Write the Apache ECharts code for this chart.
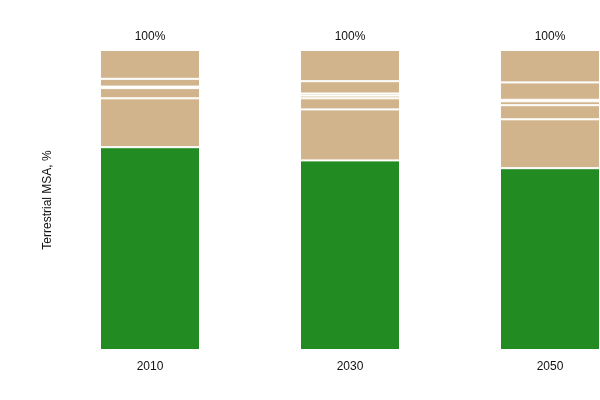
<!DOCTYPE html>
<html>
<head>
<meta charset="utf-8">
<script src="https://cdn.jsdelivr.net/npm/echarts@6/dist/echarts.min.js"></script>
<style>html,body{margin:0;padding:0;background:#fff}#c{width:600px;height:400px}</style>
</head>
<body>
<div id="c"></div>
<script>
const categories = ['2010', '2030', '2050'];
const remainingMSA = [67.6, 63.2, 60.6];
const lossA = [16.3, 17.0, 16.3];
const lossB = [3.4, 3.7, 4.7];
const lossC = [null, 0.9, 1.3];
const lossD = [0.5, 0.7, 0.5];
const lossE = [2.6, 4.1, 5.8];
const lossF = [9.6, 10.4, 10.8];
const totalLabels = ['100%', '100%', '100%'];
const yAxisTitle = 'Terrestrial MSA, %';

const tanSeries = [lossA, lossB, lossC, lossD, lossE, lossF];
const font = 'Liberation Sans, Arial, sans-serif';
const series = [{
  type: 'bar', stack: 'msa', barWidth: 100, clip: false, data: remainingMSA,
  itemStyle: { color: '#228B22', borderColor: '#fff', borderWidth: 1 }
}];
tanSeries.forEach((d, i) => {
  const s = {
    type: 'bar', stack: 'msa', barWidth: 100, clip: false, data: d,
    itemStyle: { color: '#D2B48C', borderColor: '#fff', borderWidth: 1 }
  };
  if (i === tanSeries.length - 1) {
    s.label = {
      show: true, position: 'top', distance: 7,
      formatter: p => totalLabels[p.dataIndex],
      color: '#111', fontSize: 12, fontFamily: font
    };
  }
  series.push(s);
});

const chart = echarts.init(document.getElementById('c'));
chart.setOption({
  animation: false,
  backgroundColor: '#fff',
  grid: { left: 150, top: 50, right: 50, bottom: 50 },
  xAxis: {
    type: 'category', data: categories, boundaryGap: false,
    axisLine: { show: false }, axisTick: { show: false }, splitLine: { show: false },
    axisLabel: { margin: 11, color: '#111', fontSize: 12, fontFamily: font }
  },
  yAxis: {
    type: 'value', min: 0, max: 100,
    axisLine: { show: false }, axisTick: { show: false },
    axisLabel: { show: false }, splitLine: { show: false },
    name: yAxisTitle, nameLocation: 'middle', nameRotate: 90, nameGap: 96,
    nameTextStyle: { color: '#111', fontSize: 12, fontFamily: font }
  },
  series: series
});
</script>
</body>
</html>
